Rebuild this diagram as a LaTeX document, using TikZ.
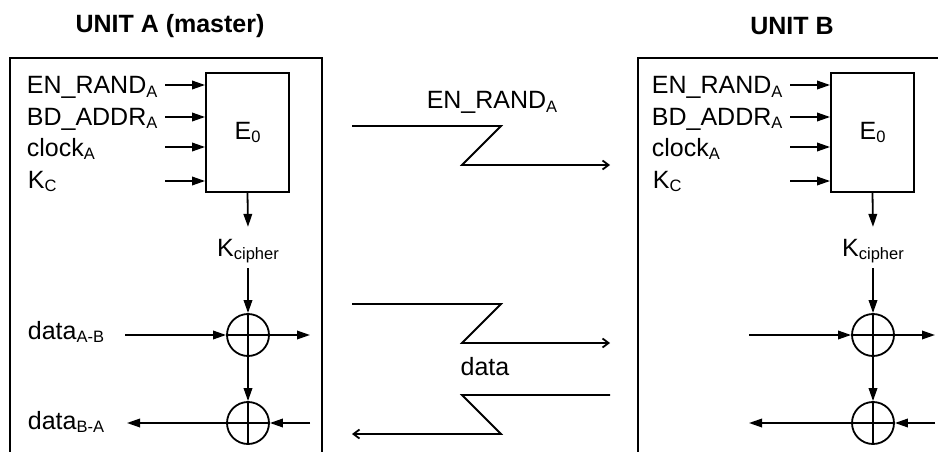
\documentclass[tikz,border=0pt]{standalone}
\usepackage{fontspec}
\setmainfont{Liberation Sans}
\usetikzlibrary{arrows.meta,positioning}

\newcommand{\lowsub}[1]{\raisebox{-0.15em}{\fontsize{16.5}{18}\selectfont #1}}

\begin{document}
\begin{tikzpicture}[
    x=1pt, y=-1pt,
    line width=1.8pt,
    every node/.style={font=\fontsize{25}{29}\selectfont, inner sep=0pt},
    unittitle/.style={font=\fontsize{25}{29}\selectfont\bfseries},
    cipher/.style={rectangle, draw, minimum width=83pt, minimum height=119pt},
    xor/.style={circle, draw, minimum size=42pt,
        path picture={\draw (path picture bounding box.north) -- (path picture bounding box.south)
                            (path picture bounding box.west) -- (path picture bounding box.east);}},
    sig/.style={anchor=base west},
    arr/.style={-{Triangle[length=13pt, width=8.5pt]}},
    link/.style={-{Straight Barb[length=6pt, width=9pt]}}
]
\useasboundingbox (0,0) rectangle (938,452);

% unit frames (open at the bottom)
\draw (10,452) -- (10,58) -- (322,58) -- (322,452);
\draw (638,452) -- (638,58) -- (938,58);
\node[unittitle] (titleA) at (170,26) {UNIT A (master)};
\node[unittitle] (titleB) at (792,26) {UNIT B};

% UNIT A
\node[cipher] (e0A) at (247.5,132.5) {E\lowsub{0}};
\node[sig] (enA) at (26,94) {EN\_RAND\lowsub{A}};
\node[sig] (bdA) at (26,125) {BD\_ADDR\lowsub{A}};
\node[sig] (clkA) at (26,156) {clock\lowsub{A}};
\node[sig] (kcA) at (27,188) {K\lowsub{C}};
\coordinate (sA1) at (165,85);
\coordinate (sA2) at (165,117);
\coordinate (sA3) at (165,147);
\coordinate (sA4) at (165,181);
\draw[arr] (sA1) -- (sA1 -| e0A.west);
\draw[arr] (sA2) -- (sA2 -| e0A.west);
\draw[arr] (sA3) -- (sA3 -| e0A.west);
\draw[arr] (sA4) -- (sA4 -| e0A.west);

\node[anchor=base] (kcipA) at (248,256) {K\lowsub{cipher}};
\node[xor] (xorA1) at (248,335) {};
\node[xor] (xorA2) at (248,423) {};
\draw[arr] (e0A.south) -- ([yshift=11pt]kcipA.north);
\draw[arr] ([yshift=-4pt]kcipA.south) -- (xorA1.north);
\draw[arr] (xorA1) -- (xorA2);

\node[sig] (dataAB) at (27,339) {data\lowsub{A-B}};
\node[sig] (dataBA) at (27,429) {data\lowsub{B-A}};
\coordinate (inAB) at (125,335);
\coordinate (outAB) at (310,335);
\coordinate (inBA) at (310,423);
\coordinate (outBA) at (127,423);
\draw[arr] (inAB) -- (xorA1);
\draw[arr] (xorA1) -- (outAB);
\draw[arr] (inBA) -- (xorA2);
\draw[arr] (xorA2) -- (outBA);

% UNIT B
\node[cipher] (e0B) at (872.5,132.5) {E\lowsub{0}};
\node[sig] (enB) at (651,94) {EN\_RAND\lowsub{A}};
\node[sig] (bdB) at (651,125) {BD\_ADDR\lowsub{A}};
\node[sig] (clkB) at (651,156) {clock\lowsub{A}};
\node[sig] (kcB) at (652,188) {K\lowsub{C}};
\coordinate (sB1) at (790,85);
\coordinate (sB2) at (790,117);
\coordinate (sB3) at (790,147);
\coordinate (sB4) at (790,181);
\draw[arr] (sB1) -- (sB1 -| e0B.west);
\draw[arr] (sB2) -- (sB2 -| e0B.west);
\draw[arr] (sB3) -- (sB3 -| e0B.west);
\draw[arr] (sB4) -- (sB4 -| e0B.west);

\node[anchor=base] (kcipB) at (873,256) {K\lowsub{cipher}};
\node[xor] (xorB1) at (873,335) {};
\node[xor] (xorB2) at (873,423) {};
\draw[arr] (e0B.south) -- ([yshift=11pt]kcipB.north);
\draw[arr] ([yshift=-4pt]kcipB.south) -- (xorB1.north);
\draw[arr] (xorB1) -- (xorB2);

\coordinate (inB1) at (749,335);
\coordinate (outB1) at (935,335);
\coordinate (inB2) at (935,423);
\coordinate (outB2) at (749,423);
\draw[arr] (inB1) -- (xorB1);
\draw[arr] (xorB1) -- (outB1);
\draw[arr] (inB2) -- (xorB2);
\draw[arr] (xorB2) -- (outB2);

% radio links
\node[anchor=base] (randLbl) at (492,109) {EN\_RAND\lowsub{A}};
\node[anchor=base] (dataLbl) at (485,375) {data};
\coordinate (lkRs) at (352,126);
\coordinate (lkRe) at (610,165);
\coordinate (lkDs) at (352,304);
\coordinate (lkDe) at (610,343);
\coordinate (lkUs) at (610,395);
\coordinate (lkUe) at (352,434);
\draw[link] (lkRs) -- ++(149,0) -- ++(-39,39) -- (lkRe);
\draw[link] (lkDs) -- ++(149,0) -- ++(-39,39) -- (lkDe);
\draw[link] (lkUs) -- ++(-148,0) -- ++(39,39) -- (lkUe);
\end{tikzpicture}
\end{document}
